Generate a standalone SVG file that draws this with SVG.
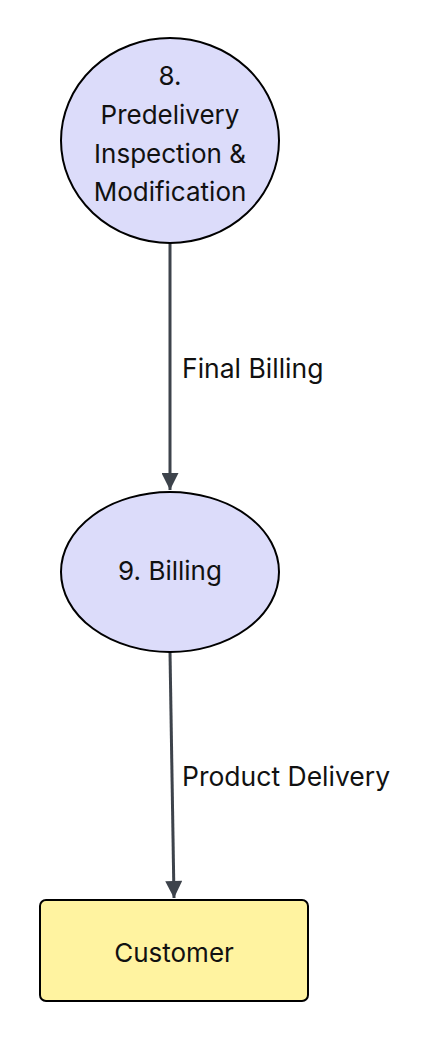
<svg xmlns="http://www.w3.org/2000/svg" width="435" height="1043" viewBox="0 0 435 1043">
<defs>
<style>
.node{fill:#dcdcfa;stroke:#000;stroke-width:2}
.box{fill:#fff3a0;stroke:#000;stroke-width:2}
.lbl{font-family:Inter,"Liberation Sans",sans-serif;font-size:26px;fill:#111;text-anchor:middle}
.elbl{font-family:Inter,"Liberation Sans",sans-serif;font-size:26.5px;fill:#111}
.edge{stroke:#3d434b;stroke-width:3;fill:none}
</style>
<marker id="arr" markerWidth="20" markerHeight="17" refX="20" refY="10" viewBox="0 0 20 20" orient="auto" markerUnits="userSpaceOnUse">
<path d="M0,0 L20,10 L0,20 Z" fill="#3d434b"/>
</marker>
</defs>
<rect width="435" height="1043" fill="#fff"/>
<g id="connectors">
<line class="edge" x1="170" y1="243" x2="170" y2="490" marker-end="url(#arr)"/>
<line class="edge" x1="170" y1="652" x2="174" y2="898" marker-end="url(#arr)"/>
<text class="elbl" x="182" y="378">Final Billing</text>
<text class="elbl" x="182" y="786">Product Delivery</text>
</g>
<g id="node8">
<ellipse class="node" cx="170" cy="140.5" rx="109" ry="102.5"/>
<text class="lbl" x="170" y="85">8.</text>
<text class="lbl" x="170" y="124">Predelivery</text>
<text class="lbl" x="170" y="163">Inspection &amp;</text>
<text class="lbl" x="170" y="201">Modification</text>
</g>
<g id="node9">
<ellipse class="node" cx="170" cy="572" rx="109" ry="80"/>
<text class="lbl" x="170" y="580">9. Billing</text>
</g>
<g id="customer">
<rect class="box" x="40" y="900" width="268" height="101" rx="6"/>
<text class="lbl" x="174" y="962">Customer</text>
</g>
</svg>
